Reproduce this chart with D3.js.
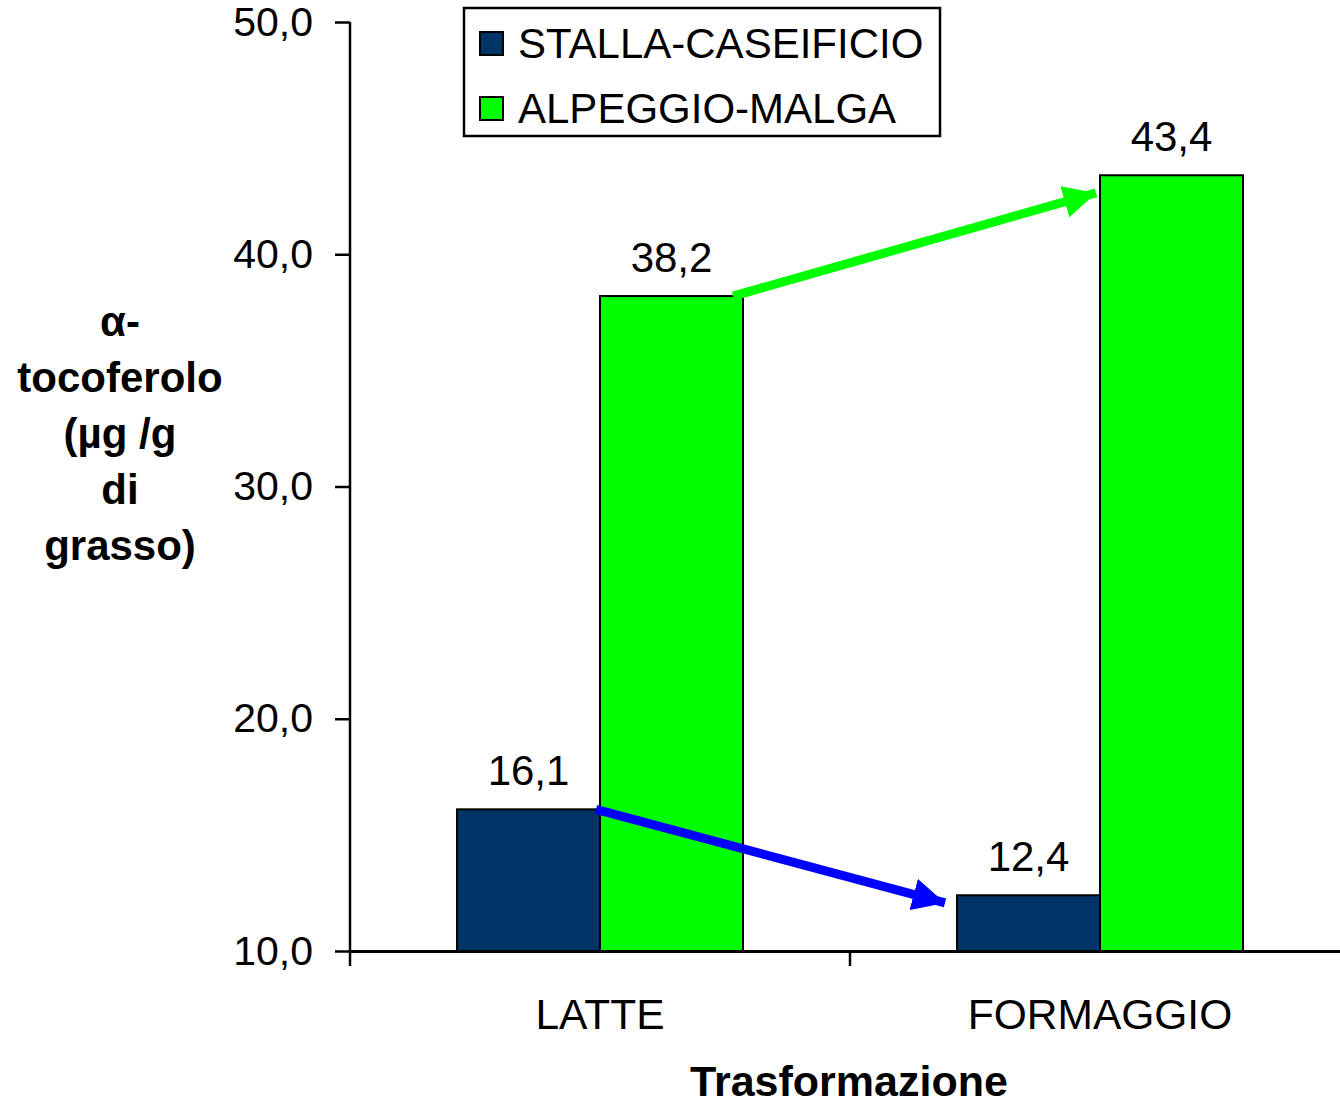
<!DOCTYPE html>
<html>
<head>
<meta charset="utf-8">
<script src="https://cdn.jsdelivr.net/npm/d3@7"></script>
<style>
  html, body { margin: 0; padding: 0; background: #fff; }
  svg { display: block; font-family: "Liberation Sans", Arial, sans-serif; }
</style>
</head>
<body>
<svg id="chart" width="1340" height="1104"></svg>
<script>
// Data
const categories = ["LATTE", "FORMAGGIO"];
const seriesNames = ["STALLA-CASEIFICIO", "ALPEGGIO-MALGA"];
const stallaValues = [16.1, 12.4];
const alpeggioValues = [38.2, 43.4];
const yTicks = [10, 20, 30, 40, 50];
const yTitleLines = ["α-", "tocoferolo", "(µg /g", "di", "grasso)"];
const xTitle = "Trasformazione";

const colors = ["#003366", "#00FF00"];
const arrowColors = ["#0000FF", "#00FF00"];

const svg = d3.select("#chart");

const x = d3.scaleBand().domain(categories).range([350, 1350]).paddingInner(0).paddingOuter(0);
const y = d3.scaleLinear().domain([10, 50]).range([951, 22]);
const groupWidth = 286;
const x1 = d3.scaleBand().domain(seriesNames).range([0, groupWidth]).padding(0);

const fmt = v => d3.format(".1f")(v).replace(".", ",");

const rows = categories.map((c, i) => ({
  cat: c,
  vals: [stallaValues[i], alpeggioValues[i]]
}));

function groupX(cat) { return x(cat) + (x.bandwidth() - groupWidth) / 2; }

// Bars
const groups = svg.append("g").selectAll("g").data(rows).join("g")
  .attr("transform", d => `translate(${groupX(d.cat)},0)`);

groups.selectAll("rect").data(d => d.vals.map((v, j) => ({ v, s: seriesNames[j], j })))
  .join("rect")
  .attr("x", d => x1(d.s))
  .attr("y", d => y(d.v))
  .attr("width", x1.bandwidth())
  .attr("height", d => y(10) - y(d.v))
  .attr("fill", d => colors[d.j])
  .attr("stroke", "#000")
  .attr("stroke-width", 2);

// Value labels
groups.selectAll("text.val").data(d => d.vals.map((v, j) => ({ v, s: seriesNames[j] })))
  .join("text")
  .attr("class", "val")
  .attr("x", d => x1(d.s) + x1.bandwidth() / 2)
  .attr("y", d => y(d.v) - 24)
  .attr("text-anchor", "middle")
  .attr("font-size", 42)
  .attr("fill", "#000")
  .text(d => fmt(d.v));

// Y axis
const yAxis = d3.axisLeft(y).tickValues(yTicks).tickSize(15).tickPadding(22).tickFormat(fmt);
const gy = svg.append("g").attr("transform", "translate(350,0)").call(yAxis);
gy.select(".domain").attr("stroke", "#000").attr("stroke-width", 2.5).attr("d", `M0,${y(50)}V${y(10)}`);
gy.selectAll(".tick line").attr("stroke", "#000").attr("stroke-width", 2.5);
gy.selectAll(".tick text").attr("font-size", 41).attr("font-family", "Liberation Sans, Arial, sans-serif").attr("fill", "#000");

// X axis
const xAxis = d3.axisBottom(x).tickValues([]).tickSizeOuter(0);
const gx = svg.append("g").attr("transform", `translate(0,${y(10)})`).call(xAxis);
gx.select(".domain").attr("stroke", "#000").attr("stroke-width", 3);
// category boundary ticks
const bounds = [x.range()[0], x(categories[1])];
gx.selectAll("line.bound").data(bounds).join("line").attr("class", "bound")
  .attr("x1", d => d).attr("x2", d => d).attr("y1", 0).attr("y2", 15)
  .attr("stroke", "#000").attr("stroke-width", 2.5);
gx.selectAll("text.cat").data(categories).join("text").attr("class", "cat")
  .attr("x", d => x(d) + x.bandwidth() / 2)
  .attr("y", 78)
  .attr("text-anchor", "middle")
  .attr("font-size", 42.5)
  .attr("fill", "#000")
  .text(d => d);

// Axis titles
svg.append("text")
  .attr("x", 849).attr("y", 1096)
  .attr("text-anchor", "middle")
  .attr("font-size", 43).attr("font-weight", "bold")
  .text(xTitle);

const yt = svg.append("text")
  .attr("text-anchor", "middle")
  .attr("font-size", 42).attr("font-weight", "bold");
yt.selectAll("tspan").data(yTitleLines).join("tspan")
  .attr("x", 120)
  .attr("y", (d, i) => 336 + i * 56)
  .text(d => d);

// Arrows showing the change from milk to cheese
const defs = svg.append("defs");
arrowColors.forEach((c, i) => {
  defs.append("marker")
    .attr("id", "arrow" + i)
    .attr("viewBox", "0 0 10 10")
    .attr("refX", 10).attr("refY", 5)
    .attr("markerWidth", 3.6).attr("markerHeight", 3.6)
    .attr("markerUnits", "strokeWidth")
    .attr("orient", "auto")
    .append("path")
    .attr("d", "M0,0L10,5L0,10z")
    .attr("fill", c);
});

const arrows = [
  { // stalla: decrease
    x1: groupX("LATTE") + x1(seriesNames[1]) - 4, y1: y(stallaValues[0]),
    x2: groupX("FORMAGGIO") - 12, y2: y(12.07), c: 0
  },
  { // alpeggio: increase
    x1: groupX("LATTE") + x1(seriesNames[1]) + x1.bandwidth() - 10, y1: y(alpeggioValues[0]),
    x2: groupX("FORMAGGIO") + x1(seriesNames[1]) - 4, y2: y(42.64), c: 1
  }
];
svg.append("g").selectAll("line").data(arrows).join("line")
  .attr("x1", d => d.x1).attr("y1", d => d.y1)
  .attr("x2", d => d.x2).attr("y2", d => d.y2)
  .attr("stroke", d => arrowColors[d.c])
  .attr("stroke-width", 9)
  .attr("marker-end", d => `url(#arrow${d.c})`);

// Legend
const lg = svg.append("g");
lg.append("rect").attr("x", 464).attr("y", 8).attr("width", 476).attr("height", 128)
  .attr("fill", "#fff").attr("stroke", "#000").attr("stroke-width", 2.5);
const items = lg.selectAll("g.item").data(seriesNames).join("g").attr("class", "item")
  .attr("transform", (d, i) => `translate(480,${32 + i * 65})`);
items.append("rect").attr("width", 23).attr("height", 23)
  .attr("fill", (d, i) => colors[i]).attr("stroke", "#000").attr("stroke-width", 2);
items.append("text").attr("x", 38).attr("y", 26)
  .attr("font-size", 42).attr("fill", "#000")
  .text(d => d);
</script>
</body>
</html>
